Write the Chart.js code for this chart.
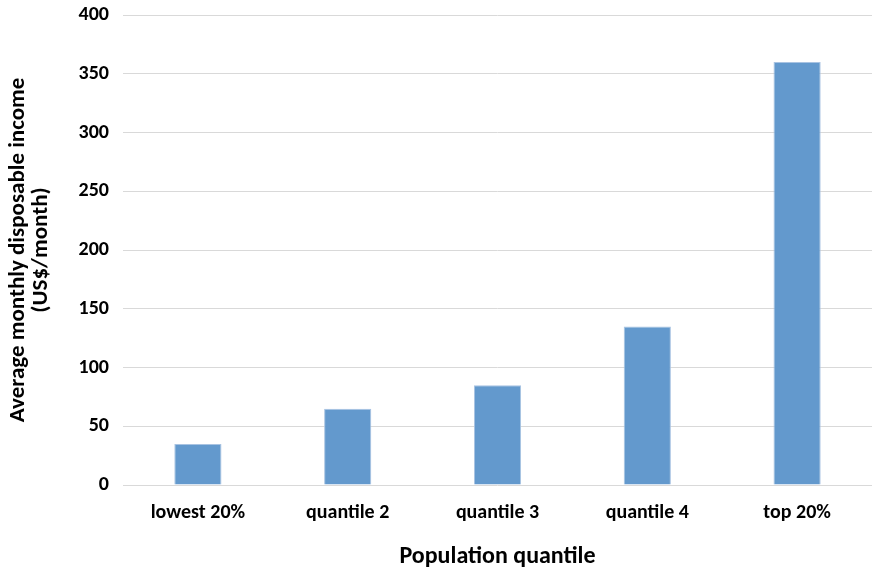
<!DOCTYPE html>
<html>
<head>
<meta charset="utf-8">
<script src="https://cdn.jsdelivr.net/npm/chart.js@4.4.0/dist/chart.umd.min.js"></script>
<style>
  html, body { margin: 0; padding: 0; background: #fff; }
  #wrap { position: relative; width: 873px; height: 571px; }
</style>
</head>
<body>
<div id="wrap"><canvas id="myChart"></canvas></div>
<script>
const categories = ["lowest 20%", "quantile 2", "quantile 3", "quantile 4", "top 20%"];
const incomeValues = [35, 65, 85, 135, 360];
const yTitleLines = ["Average monthly disposable income", "(US$/month)"];
const xTitle = "Population quantile";

const fontFamily = "Carlito, Lato, 'Open Sans', sans-serif";

const ctx = document.getElementById("myChart").getContext("2d");
new Chart(ctx, {
  type: "bar",
  data: {
    labels: categories,
    datasets: [
      {
        label: "Income",
        data: incomeValues,
        backgroundColor: "#6399cd",
        borderColor: "#a8c3e2",
        borderWidth: 1,
        barPercentage: 0.63,
        categoryPercentage: 0.5,
      },
    ],
  },
  options: {
    responsive: true,
    maintainAspectRatio: false,
    animation: false,
    layout: { padding: { top: 15, right: 1, left: 3, bottom: 0 } },
    plugins: {
      legend: { display: false },
      tooltip: { enabled: false },
    },
    scales: {
      x: {
        grid: { display: false, drawTicks: false },
        border: { display: false },
        ticks: {
          color: "#000",
          padding: 16,
          font: { family: fontFamily, size: 20, weight: "bold" },
        },
        title: {
          display: true,
          text: xTitle,
          color: "#000",
          padding: { top: 0, bottom: 0 },
          font: { family: fontFamily, size: 24, weight: "bold" },
        },
        afterFit: (scale) => { scale.height = 86; },
      },
      y: {
        min: 0,
        max: 400,
        ticks: {
          stepSize: 50,
          color: "#000",
          padding: 14,
          font: { family: fontFamily, size: 20, weight: "bold" },
        },
        grid: { color: "#d9d9d9", lineWidth: 1, drawTicks: false },
        border: { display: false },
        title: {
          display: true,
          text: yTitleLines,
          color: "#000",
          padding: { top: 4, bottom: 4 },
          font: { family: fontFamily, size: 23, weight: "bold", lineHeight: 1.0 },
        },
        afterFit: (scale) => {
          scale.width = 120;
          scale.paddingTop = 0;
          scale.paddingBottom = 0;
        },
      },
    },
  },
});
</script>
</body>
</html>
